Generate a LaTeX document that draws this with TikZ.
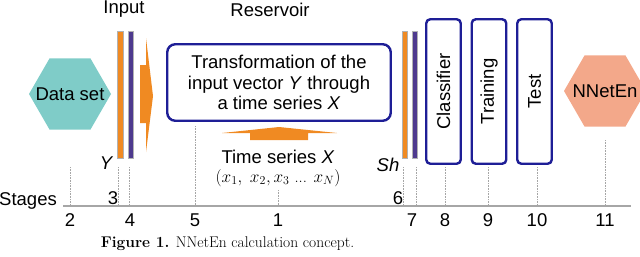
\documentclass[tikz,border=0pt]{standalone}
\usepackage{fontspec}
\setsansfont{Liberation Sans}
\usetikzlibrary{shapes.geometric,positioning}
\definecolor{barorange}{HTML}{F08A22}
\definecolor{barpurple}{HTML}{4E3A8E}
\definecolor{boxblue}{HTML}{1E1E96}
\definecolor{datateal}{HTML}{7FCCC8}
\definecolor{nnsalmon}{HTML}{F3A88A}
\tikzset{
	lbl/.style={font=\sffamily\fontsize{18.5}{20.5}\selectfont, inner sep=0pt},
	hexa/.style={regular polygon, regular polygon sides=6, minimum size=82pt, inner sep=0pt},
	bar/.style={draw=gray!60, line width=.4pt, minimum width=5.5pt, minimum height=127pt, inner sep=0pt},
	stagebox/.style={draw=boxblue, line width=2.4pt, rounded corners=4pt, minimum width=34.5pt, minimum height=144.5pt, inner sep=0pt},
	drop/.style={gray!70, densely dotted, line width=.6pt},
	axis/.style={gray!70, line width=1.2pt},
}
\begin{document}
\begin{tikzpicture}[x=1pt, y=-1pt]
	\useasboundingbox (0,0) rectangle (640,257);
	\node[hexa, fill=datateal, label={[lbl]center:Data set}] (data) at (70,94) {};
	\node[bar, fill=barorange] (inA) at (120,94.5) {}; \node[bar, fill=barpurple] (inB) at (130.5,94.5) {};
	\node[lbl] (input) at (124,9) {Input}; \node[lbl, font=\sffamily\itshape\fontsize{18.5}{20.5}\selectfont] (y) at (106,163) {Y};
	\fill[barorange] (140,65) -- (146,65) -- (146,38) -- (153,96) -- (146,152) -- (146,123) -- (140,123) -- cycle;
	\node[lbl] (res) at (270,10) {Reservoir};
	\node[draw=boxblue, line width=2.4pt, rounded corners=8pt, minimum width=223.5pt, minimum height=76.5pt, align=center, lbl] (trans) at (279,82.5) {Transformation of the\\input vector \textit{Y} through\\a time series \textit{X}};
	\fill[barorange] (250,140) -- (250,133) -- (222,133) -- (279,127) -- (337,133) -- (308,133) -- (308,140) -- cycle;
	\node[lbl] (ts) at (278,157) {Time series \textit{X}};
	\node[font=\fontsize{16.5}{18}\selectfont, inner sep=0pt] (tsx) at (278,178) {$(x_1,\;x_2, x_3$ ... $x_N)$};
	\node[bar, fill=barorange] (outA) at (404.5,94.5) {}; \node[bar, fill=barpurple] (outB) at (414.5,94.5) {};
	\node[lbl, font=\sffamily\itshape\fontsize{18.5}{20.5}\selectfont] (sh) at (388,165) {Sh};
	\node[stagebox, label={[lbl,rotate=90]center:Classifier}] (cls) at (443.5,91.5) {};
	\node[stagebox, label={[lbl,rotate=90]center:Training}] (trn) at (489,91.5) {};
	\node[stagebox, label={[lbl,rotate=90]center:Test}] (tst) at (534.5,91.5) {};
	\node[hexa, fill=nnsalmon, label={[lbl]center:NNetEn}] (nnet) at (605,91) {};
	\coordinate (axisL) at (63,206); \coordinate (axisR) at (631,206);
	\draw[axis] (axisL) -- (axisR);
	\foreach \x/\y in {70/167,118/167,129/167,195/126,278/190,403/167,416/167,445/167,488/167,537/167,605/140} \draw[drop] (\x,\y) -- (\x,205);
	\node[lbl, anchor=east] (stages) at (57,201) {Stages};
	\node[lbl] (s3) at (113,198) {3}; \node[lbl] (s6) at (398,198) {6};
	\foreach \x/\n in {70/2,130/4,195/5,278/1,412/7,445/8,488/9,537/10,605/11} \node[lbl] (s\n) at (\x,220) {\n};
	\node[font=\fontsize{15.5}{18}\selectfont, inner sep=0pt] (cap) at (227.5,244) {\textbf{Figure 1.} NNetEn calculation concept.};
	%\draw[->] (data) -- (inA);
\end{tikzpicture}
\end{document}
